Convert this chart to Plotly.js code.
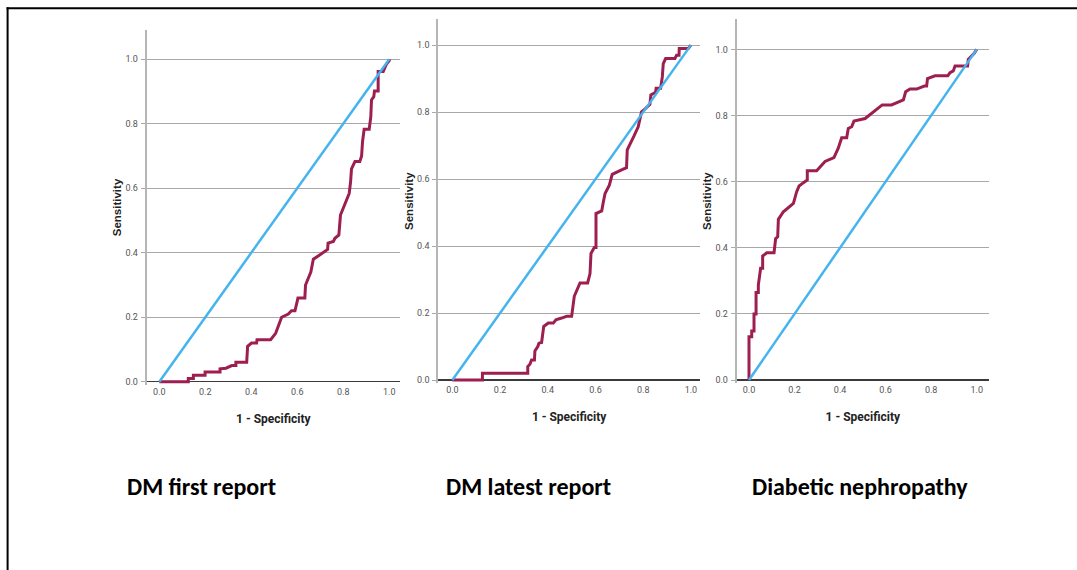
<!DOCTYPE html>
<html><head><meta charset="utf-8">
<script src="https://cdn.plot.ly/plotly-3.0.1.min.js"></script>
<style>html,body{margin:0;padding:0;background:#fff}#chart{width:1077px;height:570px}</style>
</head><body><div id="chart"></div><script>
// ---- data ----
const panelTitles = ["DM first report", "DM latest report", "Diabetic nephropathy"];
const xAxisTitle = "1 - Specificity";
const yAxisTitle = "Sensitivity";
const tickVals = [0, 0.2, 0.4, 0.6, 0.8, 1.0];
const tickText = ["0.0", "0.2", "0.4", "0.6", "0.8", "1.0"];
const refX = [0, 1];
const refY = [0, 1];

const firstX = [0,0.126,0.126,0.148,0.148,0.199,0.199,0.264,0.264,0.29,0.315,0.333,0.333,0.38,0.384,0.401,0.423,0.425,0.484,0.506,0.532,0.561,0.575,0.59,0.6,0.603,0.633,0.636,0.659,0.67,0.691,0.713,0.732,0.734,0.757,0.764,0.781,0.788,0.826,0.832,0.836,0.851,0.872,0.88,0.884,0.891,0.913,0.92,0.923,0.933,0.936,0.952,0.952,0.974,0.981,0.988,1.0,1.0];
const firstY = [0,0,0.01,0.01,0.02,0.02,0.03,0.03,0.04,0.042,0.05,0.05,0.06,0.06,0.11,0.12,0.12,0.13,0.13,0.15,0.20,0.21,0.22,0.22,0.25,0.26,0.26,0.30,0.34,0.38,0.39,0.40,0.41,0.43,0.435,0.445,0.455,0.517,0.584,0.62,0.66,0.683,0.683,0.70,0.745,0.783,0.783,0.822,0.874,0.884,0.902,0.902,0.962,0.962,0.972,0.985,0.996,1.0];

const latestX = [0,0.126,0.126,0.316,0.316,0.325,0.332,0.344,0.346,0.358,0.363,0.374,0.383,0.402,0.423,0.434,0.458,0.479,0.5,0.504,0.511,0.535,0.567,0.577,0.581,0.595,0.602,0.602,0.626,0.633,0.64,0.658,0.67,0.707,0.73,0.733,0.754,0.761,0.779,0.793,0.807,0.828,0.832,0.852,0.854,0.873,0.88,0.884,0.894,0.933,0.94,0.95,0.951,0.989,1.0];
const latestY = [0,0,0.02,0.02,0.04,0.047,0.06,0.06,0.087,0.10,0.11,0.112,0.16,0.17,0.17,0.18,0.185,0.19,0.19,0.22,0.25,0.29,0.29,0.318,0.378,0.396,0.396,0.497,0.505,0.532,0.557,0.582,0.614,0.627,0.634,0.687,0.716,0.728,0.756,0.801,0.809,0.823,0.851,0.859,0.871,0.871,0.905,0.945,0.96,0.96,0.97,0.97,0.99,0.99,1.0];

const nephX = [0,0,0.012,0.012,0.022,0.022,0.031,0.031,0.041,0.041,0.051,0.06,0.06,0.078,0.11,0.117,0.126,0.129,0.151,0.195,0.209,0.22,0.239,0.256,0.256,0.297,0.334,0.373,0.392,0.407,0.429,0.436,0.451,0.461,0.51,0.546,0.585,0.626,0.678,0.688,0.707,0.736,0.77,0.78,0.784,0.817,0.873,0.883,0.897,0.905,0.96,0.963,0.977,0.989,1.0];
const nephY = [0,0.131,0.131,0.148,0.148,0.20,0.20,0.265,0.265,0.287,0.338,0.338,0.375,0.385,0.385,0.428,0.433,0.486,0.509,0.534,0.569,0.587,0.597,0.605,0.633,0.633,0.661,0.673,0.701,0.733,0.733,0.761,0.766,0.783,0.791,0.811,0.832,0.832,0.847,0.872,0.88,0.88,0.889,0.889,0.912,0.92,0.92,0.93,0.935,0.95,0.95,0.97,0.98,0.988,1.0];

// ---- styling / layout ----
const W = 1077, H = 570;
const curveColor = "#9c1f4f";
const refColor = "#45b4ee";
const tickFamily = "Roboto, 'Liberation Sans', sans-serif";
const panels = [
  {x: firstX, y: firstY, px: [146.7, 400], py: [30, 381.7], xr: [-0.055, 1.047], ymax: 1.091, labelX: 201},
  {x: latestX, y: latestY, px: [438.3, 700], py: [19, 380], xr: [-0.059, 1.038], ymax: 1.078, labelX: 528},
  {x: nephX, y: nephY, px: [736.7, 989], py: [19, 380], xr: [-0.054, 1.054], ymax: 1.092, labelX: 860}
];

const data = [];
const layout = {
  width: W, height: H,
  margin: {l: 0, r: 0, t: 0, b: 0},
  paper_bgcolor: "#fff", plot_bgcolor: "#fff",
  showlegend: false,
  annotations: [],
  shapes: [
    {type: "line", xref: "paper", yref: "paper", x0: 7.6 / W, x1: 7.6 / W, y0: 1 - 7.3 / H, y1: 0, line: {color: "#000", width: 2}},
    {type: "line", xref: "paper", yref: "paper", x0: 6.6 / W, x1: 1, y0: 1 - 8.2 / H, y1: 1 - 8.2 / H, line: {color: "#000", width: 2}}
  ]
};

panels.forEach((p, i) => {
  const sfx = i === 0 ? "" : String(i + 1);
  const xa = "x" + sfx, ya = "y" + sfx;
  const ymin = -0.01;
  const perUnit = (p.py[1] - p.py[0]) / p.ymax;
  const bottomPx = p.py[1] + (-ymin) * perUnit;
  data.push({x: p.x, y: p.y, xaxis: xa, yaxis: ya, type: "scatter", mode: "lines",
             line: {color: curveColor, width: 3}, hoverinfo: "skip"});
  data.push({x: refX, y: refY, xaxis: xa, yaxis: ya, type: "scatter", mode: "lines",
             line: {color: refColor, width: 2.5}, hoverinfo: "skip"});
  layout["xaxis" + sfx] = {
    domain: [p.px[0] / W, p.px[1] / W], range: p.xr, anchor: ya,
    showgrid: false, zeroline: false, showline: false,
    tickmode: "array", tickvals: tickVals, ticktext: tickText,
    ticks: "", ticklabelstandoff: 0,
    tickfont: {family: tickFamily, size: 9, color: "#555"},
    title: {text: xAxisTitle, standoff: 18,
            font: {family: "Roboto, 'Liberation Sans', sans-serif", size: 12, color: "#222", weight: "bold"}},
    fixedrange: true
  };
  layout["yaxis" + sfx] = {
    domain: [1 - bottomPx / H, 1 - p.py[0] / H], range: [ymin, p.ymax], anchor: xa,
    showgrid: true, gridcolor: "#a8a8a8", gridwidth: 1,
    zeroline: true, zerolinecolor: "#3a3a3a", zerolinewidth: 1.5,
    showline: true, linecolor: "#b5b5b5", linewidth: 2,
    tickmode: "array", tickvals: tickVals, ticktext: tickText,
    ticks: "outside", ticklen: 4, tickwidth: 1, tickcolor: "#a8a8a8", ticklabelstandoff: 1,
    tickfont: {family: tickFamily, size: 9, color: "#555"},
    title: {text: yAxisTitle, standoff: 1,
            font: {family: "'Liberation Sans', Arial, sans-serif", size: 11.5, color: "#222", weight: "bold"}},
    fixedrange: true
  };
  layout.annotations.push({
    text: "<b>" + panelTitles[i] + "</b>", xref: "paper", yref: "paper",
    x: p.labelX / W, y: 1 - 486.5 / H, xanchor: "center", yanchor: "middle", showarrow: false,
    font: {family: "Carlito, Lato, 'Open Sans', sans-serif", size: 24, color: "#000"}
  });
});

Plotly.newPlot("chart", data, layout, {displayModeBar: false, staticPlot: true});
</script></body></html>
